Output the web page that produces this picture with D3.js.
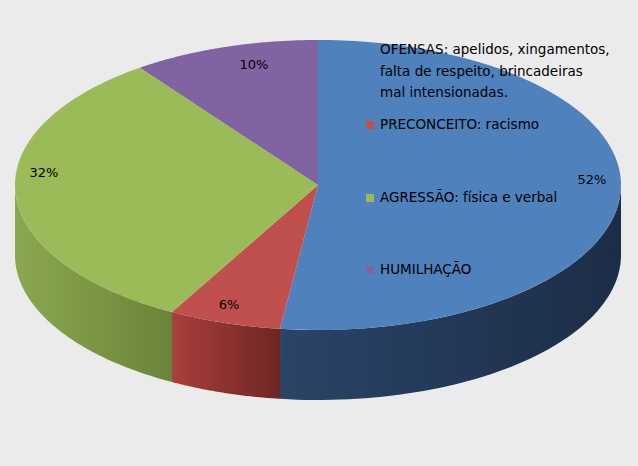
<!DOCTYPE html>
<html><head><meta charset="utf-8">
<script src="https://cdn.jsdelivr.net/npm/d3@7"></script>
<style>body{margin:0;background:#ebebeb;}</style>
</head><body><div id="chart"></div>
<script>
const categories = ["OFENSAS: apelidos, xingamentos, falta de respeito, brincadeiras mal intensionadas.", "PRECONCEITO: racismo", "AGRESSÃO: física e verbal", "HUMILHAÇÃO"];
const values = [52, 6, 32, 10];
const topColors = ["#4f81bd", "#c0504d", "#9bbb59", "#8064a2"];
const sideColors = [["#2a4468", "#1c2d46"], ["#a83f3c", "#6e2624"], ["#8aa84f", "#6b8439"], ["#6b5288", "#4c3a61"]];
const labelPos = [[592, 180], [229, 305], [44, 173], [254, 65]];

const W = 638, H = 466;
const cx = 318, cy = 185, rx = 303, ry = 145, depth = 70;

const svg = d3.select("#chart").append("svg").attr("width", W).attr("height", H);
svg.append("rect").attr("width", W).attr("height", H).attr("fill", "#ebebeb");
const defs = svg.append("defs");
sideColors.forEach((c, i) => {
  const g = defs.append("linearGradient").attr("id", "side" + i).attr("x1", 0).attr("x2", 1).attr("y1", 0).attr("y2", 0);
  g.append("stop").attr("offset", "0%").attr("stop-color", c[0]);
  g.append("stop").attr("offset", "100%").attr("stop-color", c[1]);
});

const arcs = d3.pie().sort(null)(values);
const pt = (t, dy = 0) => [cx + rx * Math.sin(t), cy - ry * Math.cos(t) + dy];

function sidePath(a0, a1) {
  const s = Math.max(a0, Math.PI / 2), e = Math.min(a1, 3 * Math.PI / 2);
  if (e <= s) return null;
  const n = 60, top = [], bot = [];
  for (let k = 0; k <= n; k++) {
    const t = s + (e - s) * k / n;
    top.push(pt(t)); bot.push(pt(t, depth));
  }
  return d3.line()(top.concat(bot.reverse())) + "Z";
}
function topPath(a0, a1) {
  const n = 80, p = [[cx, cy]];
  for (let k = 0; k <= n; k++) p.push(pt(a0 + (a1 - a0) * k / n));
  return d3.line()(p) + "Z";
}

arcs.forEach((d, i) => {
  const p = sidePath(d.startAngle, d.endAngle);
  if (p) svg.append("path").attr("d", p).attr("fill", `url(#side${i})`);
});
arcs.forEach((d, i) => {
  svg.append("path").attr("d", topPath(d.startAngle, d.endAngle)).attr("fill", topColors[i]);
});

const font = "Tahoma, 'DejaVu Sans', sans-serif";
arcs.forEach((d, i) => {
  svg.append("text").attr("x", labelPos[i][0]).attr("y", labelPos[i][1])
    .attr("text-anchor", "middle").attr("dominant-baseline", "middle")
    .attr("font-family", font).attr("font-size", 13).attr("fill", "#000")
    .text(values[i] + "%");
});

// legend
const legendLines = [["OFENSAS: apelidos, xingamentos,", "falta de respeito, brincadeiras", "mal intensionadas."], ["PRECONCEITO: racismo"], ["AGRESSÃO: física e verbal"], ["HUMILHAÇÃO"]];
const legendY = [50, 125, 198, 270];
legendLines.forEach((lines, i) => {
  svg.append("rect").attr("x", 366).attr("y", legendY[i] - 4).attr("width", 8).attr("height", 8).attr("fill", topColors[i]);
  lines.forEach((l, j) => {
    svg.append("text").attr("x", 380).attr("y", legendY[i] + j * 21.5)
      .attr("dominant-baseline", "middle").attr("font-family", font).attr("font-size", 13.5)
      .attr("fill", "#000").text(l);
  });
});
</script></body></html>
